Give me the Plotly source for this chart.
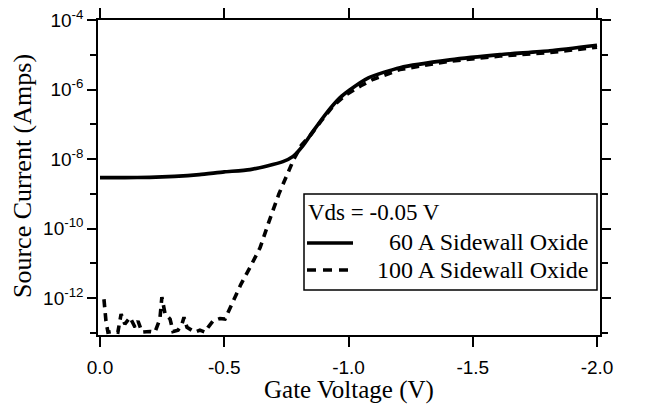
import plotly.graph_objects as go

# ---- data ----
v_60 = [0.0, -0.1, -0.2, -0.3, -0.4, -0.5, -0.604, -0.736, -0.777, -0.817, -0.857,
        -0.913, -0.966, -1.006, -1.08, -1.207, -1.408, -1.61, -1.81, -2.0]
i_60 = [2.95e-9, 2.95e-9, 3.0e-9, 3.2e-9, 3.6e-9, 4.3e-9, 5.0e-9, 8.5e-9, 1.2e-8, 2.45e-8, 6.3e-8,
        2.2e-7, 5.9e-7, 1.0e-6, 2.2e-6, 4.3e-6, 7.2e-6, 1.02e-5, 1.32e-5, 1.9e-5]

v_100 = [-0.016, -0.024, -0.032, -0.048, -0.072, -0.085, -0.10, -0.121, -0.141, -0.153,
         -0.169, -0.201, -0.221, -0.241, -0.249, -0.262, -0.282, -0.294, -0.314, -0.330,
         -0.338, -0.350, -0.382, -0.402, -0.423, -0.435, -0.455, -0.483, -0.503,
         -0.535, -0.567, -0.604, -0.644, -0.68, -0.72, -0.75, -0.78, -0.81, -0.85,
         -0.89, -0.94, -0.99, -1.05, -1.10, -1.207, -1.408, -1.61, -1.81, -2.0]
i_100 = [9.3e-13, 2.2e-13, 1.05e-13, 1.1e-13, 1.05e-13, 3.5e-13, 1.8e-13, 2.8e-13, 1.45e-13, 2.2e-13,
         1.05e-13, 1.1e-13, 1.05e-13, 2.5e-13, 1.07e-12, 3.5e-13, 2.5e-13, 1.1e-13, 1.2e-13, 1.8e-13,
         2.8e-13, 1.45e-13, 1.05e-13, 1.2e-13, 1.05e-13, 1.45e-13, 2.2e-13, 2.6e-13, 2.5e-13,
         7.6e-13, 2.5e-12, 7.8e-12, 2.8e-11, 1.6e-10, 1.0e-9, 3.2e-9, 1.0e-8, 2.5e-8, 5.2e-8,
         1.26e-7, 3.5e-7, 7.1e-7, 1.3e-6, 2.0e-6, 3.8e-6, 6.6e-6, 9.3e-6, 1.17e-5, 1.66e-5]

x_tickvals = [0.0, -0.5, -1.0, -1.5, -2.0]
x_ticktext = ["0.0", "-0.5", "-1.0", "-1.5", "-2.0"]
y_tickvals = [1e-12, 1e-10, 1e-8, 1e-6, 1e-4]
y_ticktext = ["10<sup>-12</sup>", "10<sup>-10</sup>", "10<sup>-8</sup>", "10<sup>-6</sup>", "10<sup>-4</sup>"]
y_minorvals = [1e-13, 1e-11, 1e-9, 1e-7, 1e-5]

x_title = "Gate Voltage (V)"
y_title = "Source Current (Amps)"
legend_title = "Vds = -0.05 V"
name_60 = "60 A Sidewall Oxide"
name_100 = "100 A Sidewall Oxide"

SERIF = "Liberation Serif, Times New Roman, serif"
SANS = "Liberation Sans, Arial, sans-serif"

fig = go.Figure()
fig.add_trace(go.Scatter(x=v_60, y=i_60, mode="lines", name=name_60,
                         line=dict(color="black", width=3.6, shape="spline", smoothing=0.6),
                         showlegend=False))
fig.add_trace(go.Scatter(x=v_100, y=i_100, mode="lines", name=name_100,
                         line=dict(color="black", width=3.6, dash="8px,6px"),
                         showlegend=False))

# ---- page pixel -> paper helpers (plot area spans page 98..600 x 20..335) ----
def px2x(p):
    return (p - 98) / 502.0

def py2y(p):
    return (335 - p) / 315.0

# ---- hand-drawn legend box ----
fig.add_shape(type="rect", xref="paper", yref="paper",
              x0=px2x(304), x1=px2x(597), y0=py2y(290), y1=py2y(194),
              line=dict(color="black", width=1.5), fillcolor="white", layer="above")
fig.add_shape(type="line", xref="paper", yref="paper",
              x0=px2x(307), x1=px2x(353), y0=py2y(243), y1=py2y(243),
              line=dict(color="black", width=3.6))
fig.add_shape(type="line", xref="paper", yref="paper",
              x0=px2x(307), x1=px2x(353), y0=py2y(270), y1=py2y(270),
              line=dict(color="black", width=3.6, dash="9px,7px"))
fig.add_annotation(xref="paper", yref="paper", x=px2x(306), y=py2y(212),
                   text=legend_title, showarrow=False, xanchor="left", yanchor="middle",
                   font=dict(family=SERIF, size=23, color="black"))
fig.add_annotation(xref="paper", yref="paper", x=px2x(590), y=py2y(242),
                   text=name_60, showarrow=False, xanchor="right", yanchor="middle",
                   font=dict(family=SERIF, size=24, color="black"))
fig.add_annotation(xref="paper", yref="paper", x=px2x(590), y=py2y(270),
                   text=name_100, showarrow=False, xanchor="right", yanchor="middle",
                   font=dict(family=SERIF, size=24, color="black"))

# ---- axis titles ----
fig.add_annotation(xref="paper", yref="paper", x=px2x(349), y=py2y(390),
                   text=x_title, showarrow=False, xanchor="center", yanchor="middle",
                   font=dict(family=SERIF, size=25, color="black"))
fig.add_annotation(xref="paper", yref="paper", x=px2x(22), y=py2y(176),
                   text=y_title, showarrow=False, xanchor="center", yanchor="middle",
                   textangle=-90, font=dict(family=SERIF, size=26, color="black"))

# the page body has an 8 px default margin, so the figure is drawn 8 px smaller
fig.update_layout(
    width=641, height=397,
    margin=dict(l=90, r=49, t=12, b=70),
    paper_bgcolor="white", plot_bgcolor="white",
    showlegend=False,
    xaxis=dict(
        range=[0.008, -2.012], automargin=False,
        tickmode="array", tickvals=x_tickvals, ticktext=x_ticktext,
        ticks="outside", ticklen=10, tickwidth=2, tickcolor="black",
        ticklabelstandoff=4, ticklabeloverflow="allow",
        showline=True, linecolor="black", linewidth=1.5, mirror="ticks",
        showgrid=False, zeroline=False,
        tickfont=dict(family=SANS, size=19, color="black"),
    ),
    yaxis=dict(
        type="log", range=[-13.06, -3.995], automargin=False,
        tickmode="array", tickvals=y_tickvals, ticktext=y_ticktext,
        ticks="outside", ticklen=9, tickwidth=2, tickcolor="black",
        ticklabeloverflow="allow",
        minor=dict(tickmode="array", tickvals=y_minorvals, ticks="outside", ticklen=6,
                   tickwidth=1.5, tickcolor="black", showgrid=False),
        showline=True, linecolor="black", linewidth=1.5, mirror="ticks",
        showgrid=False, zeroline=False,
        tickfont=dict(family=SANS, size=19, color="black"),
    ),
)

fig.write_html("out.html")
